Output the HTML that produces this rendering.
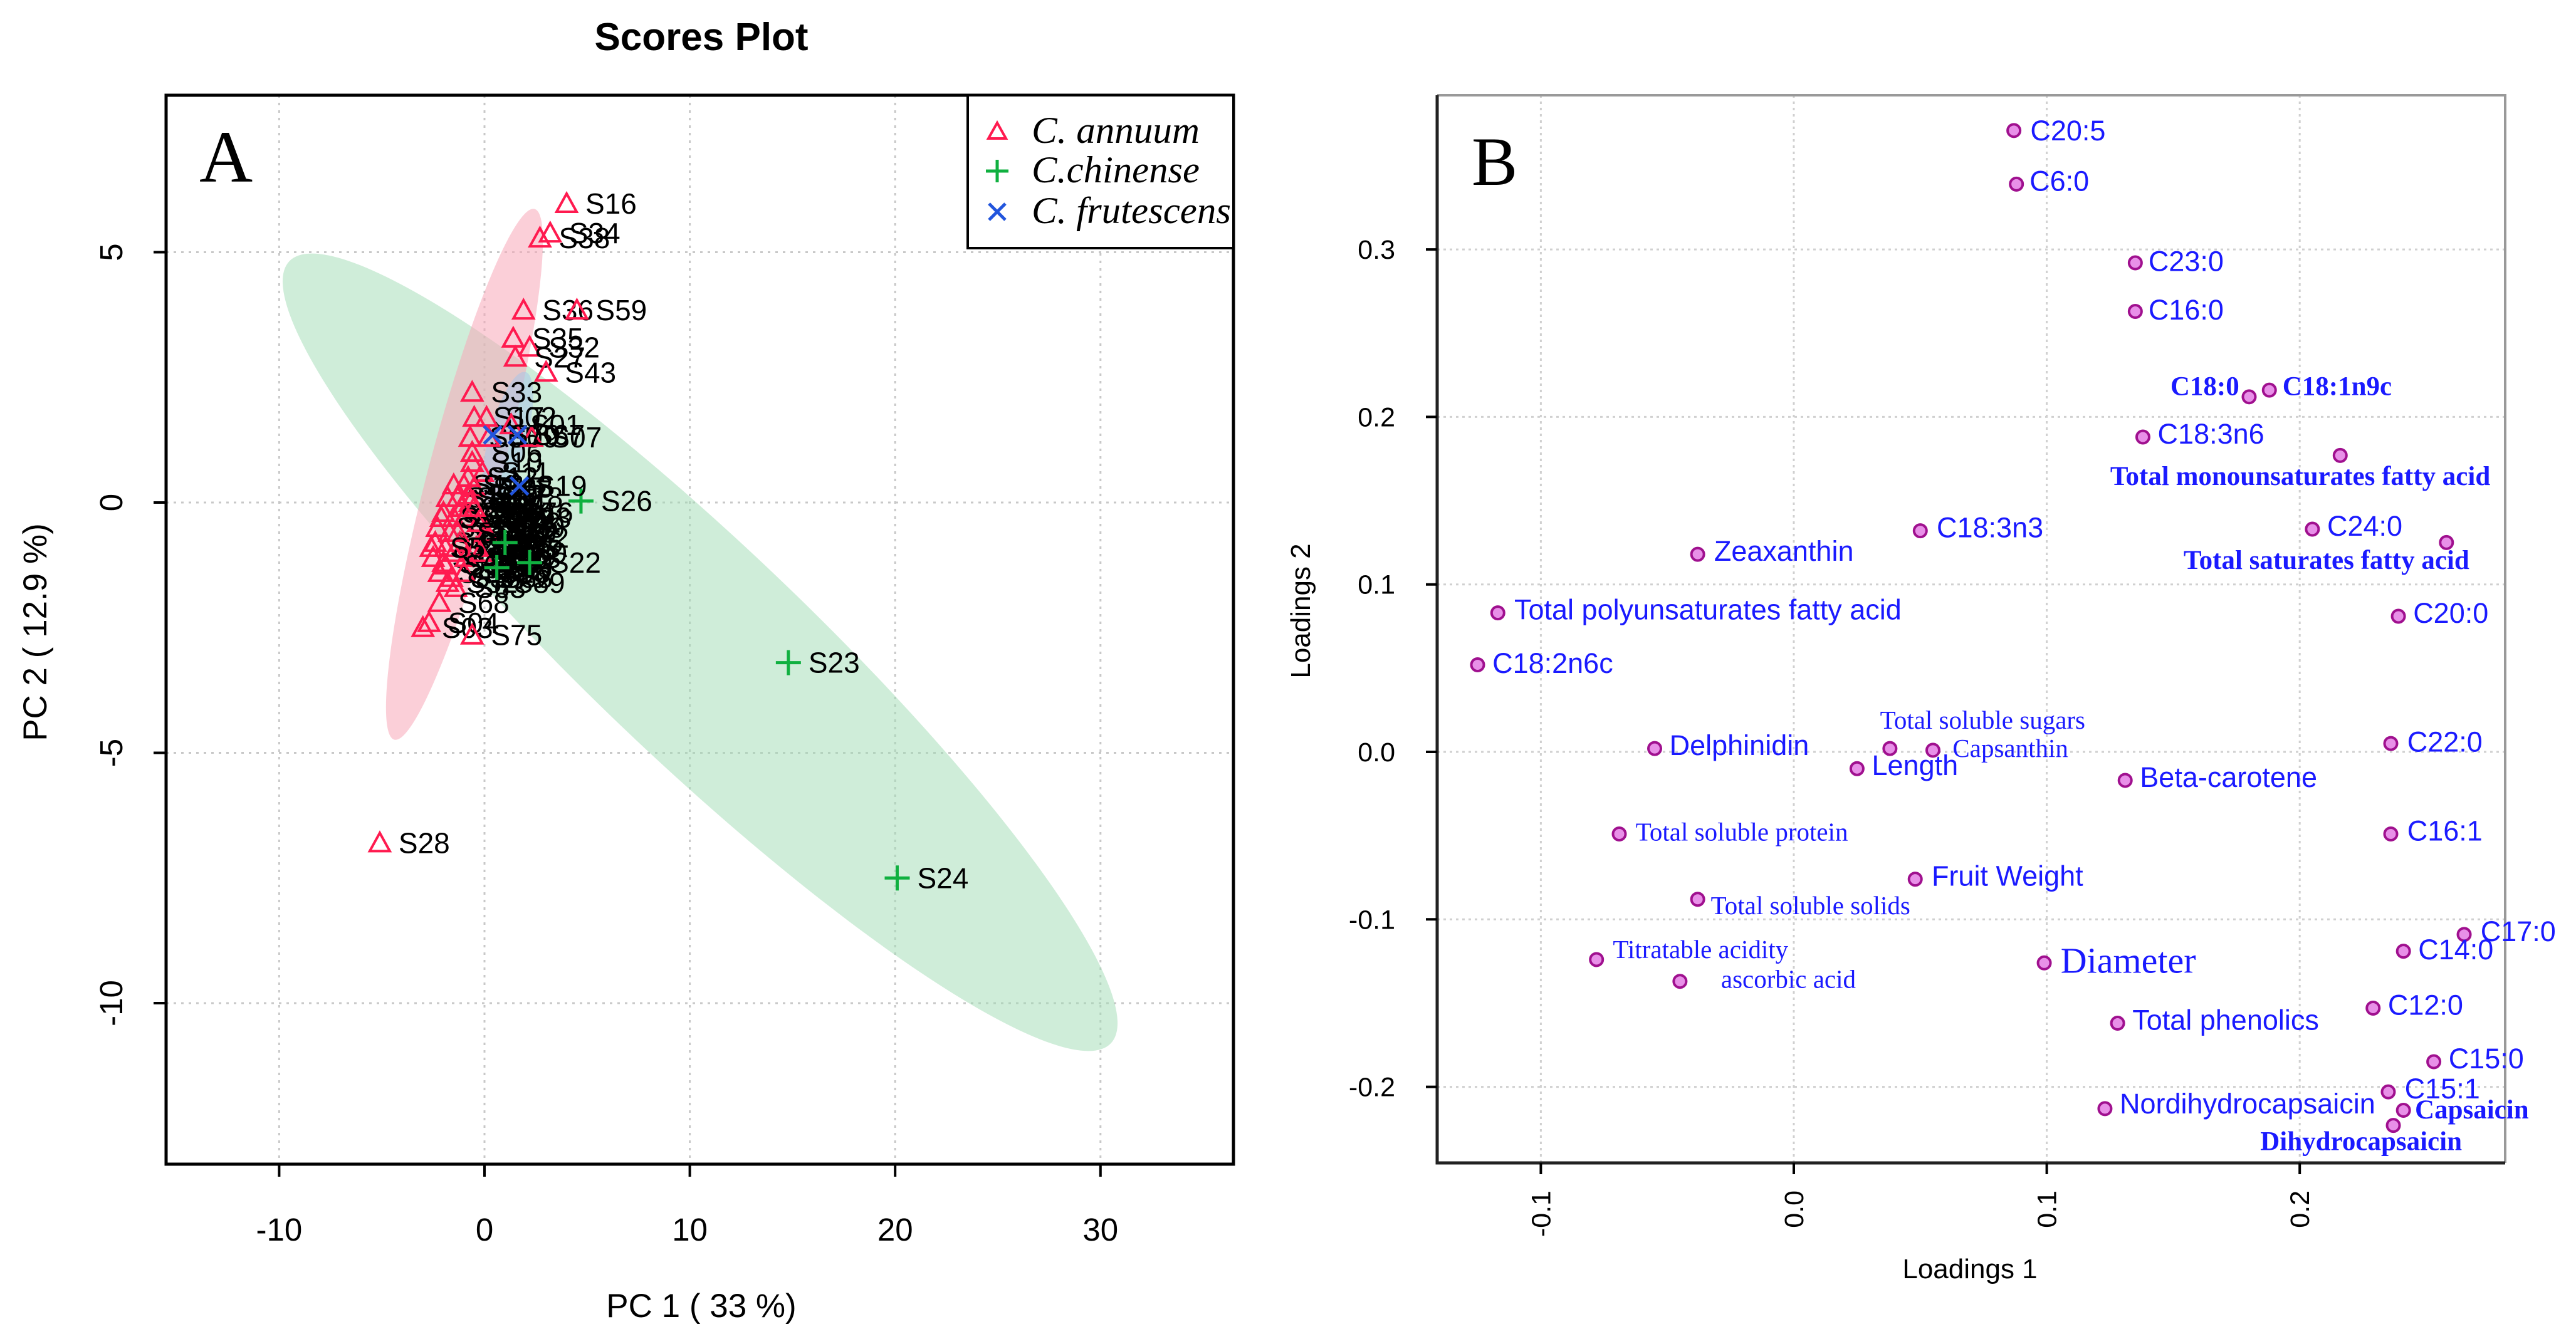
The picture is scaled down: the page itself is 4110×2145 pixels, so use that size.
<!DOCTYPE html>
<html><head><meta charset="utf-8">
<style>
html,body{margin:0;padding:0;background:#fff;}
svg{display:block;}
</style></head>
<body>
<svg id="fig" width="4110" height="2145" viewBox="0 0 4110 2145" xmlns="http://www.w3.org/2000/svg">
<g id="panelA"></g>
<g id="panelB"></g>
</svg>
<script>
// ---------- Panel A data ----------
const annumNames = ["S16","S34","S38","S36","S59","S35","S32","S27","S43","S33",
"S17","S02","S05","S06","S09","S01","S07","S10","S11","S12",
"S13","S14","S15","S18","S20","S21","S25","S29","S30","S31",
"S37","S39","S40","S41","S42","S44","S45","S46","S47","S48",
"S49","S50","S51","S52","S53","S54","S55","S56","S57","S58",
"S60","S61","S62","S63","S68","S04","S03","S75","S28"];
const annumX = [4.0,3.2,2.7,1.9,4.5,1.4,2.2,1.5,3.0,-0.6,
-0.5,0.1,-0.7,-0.6,0.2,1.3,2.3,-0.6,-0.1,-0.8,
-1.5,-1.0,-0.5,-1.8,-1.3,-0.7,-2.0,-1.5,-1.0,-2.3,
-1.7,-0.3,0.1,-2.4,-1.9,-1.2,-2.5,-2.0,-1.5,-0.9,
-2.2,-1.6,-1.0,-1.8,-0.4,-2.1,-1.3,-0.2,-2.6,-1.1,
-0.8,-1.9,-0.5,-1.4,-2.2,-2.7,-3.0,-0.6,-5.1];
const annumY = [5.97,5.38,5.28,3.84,3.84,3.28,3.1,2.9,2.6,2.2,
1.7,1.7,1.3,1.0,1.3,1.55,1.3,0.8,0.6,0.5,
0.35,0.35,0.3,0.1,0.1,0.0,-0.2,-0.3,-0.3,-0.5,
-0.6,-0.4,-0.6,-0.8,-0.9,-0.8,-1.1,-1.2,-1.0,-1.1,
-1.4,-1.5,-1.4,-1.6,-0.9,-0.3,-0.6,-1.0,-0.9,-0.1,
0.15,-1.25,-0.1,-1.7,-2.0,-2.4,-2.5,-2.65,-6.8];
const chinNames = ["S26","S22","S23","S24","S64","S65"];
const chinX = [4.7,2.2,14.8,20.1,1.0,0.6];
const chinY = [0.03,-1.2,-3.2,-7.5,-0.8,-1.3];
const frutNames = ["S70","S67","S19"];
const frutX = [0.4,1.6,1.7];
const frutY = [1.35,1.35,0.33];
const xTicksA = [-10,0,10,20,30];
const yTicksA = [5,0,-5,-10];
const extraLabels = ["S66","S69","S71","S72","S73","S74","S76","S77","S78","S79","S80","S08","S22","S23","S24","S26",
"S81","S82","S83","S84","S85","S86","S87","S88","S89","S90","S91","S92","S93","S94","S95","S96"];
const extraX = [0.5,1.0,0.3,1.2,0.8,0.2,1.4,0.6,0.9,0.1,1.1,0.4,0.7,1.3,0.5,0.9,
-0.3,0.0,0.3,-0.2,0.6,0.2,-0.1,0.4,1.0,-0.4,0.2,0.8,0.0,0.5,-0.2,0.3];
const extraY = [-0.2,-0.5,-0.9,-0.7,-1.1,-0.4,-0.2,-1.3,0.1,-1.5,-1.0,0.3,-0.6,-0.3,-1.2,-0.8,
-0.1,-0.3,-0.5,-0.7,-0.9,-1.1,-1.3,-1.5,-1.6,-0.5,0.0,-0.4,-0.9,-0.2,-1.2,-1.4];

// ---------- Panel B data ----------
const loadNames = ["C20:5","C6:0","C23:0","C16:0","C18:0","C18:1n9c","C18:3n6","Total monounsaturates fatty acid","C18:3n3","Zeaxanthin",
"C24:0","Total saturates fatty acid","Total polyunsaturates fatty acid","C20:0","C18:2n6c","Delphinidin","Total soluble sugars","Capsanthin","Length","Beta-carotene",
"C22:0","Total soluble protein","C16:1","Fruit Weight","Total soluble solids","C17:0","Titratable acidity","ascorbic acid","Diameter","C14:0",
"C12:0","Total phenolics","C15:0","C15:1","Nordihydrocapsaicin","Capsaicin","Dihydrocapsaicin"];
const load1 = [0.087,0.088,0.135,0.135,0.180,0.188,0.138,0.216,0.050,-0.038,
0.205,0.258,-0.117,0.239,-0.125,-0.055,0.038,0.055,0.025,0.131,
0.236,-0.069,0.236,0.048,-0.038,0.265,-0.078,-0.045,0.099,0.241,
0.229,0.128,0.253,0.235,0.123,0.241,0.237];
const load2 = [0.371,0.339,0.292,0.263,0.212,0.216,0.188,0.177,0.132,0.118,
0.133,0.125,0.083,0.081,0.052,0.002,0.002,0.001,-0.010,-0.017,
0.005,-0.049,-0.049,-0.076,-0.088,-0.109,-0.124,-0.137,-0.126,-0.119,
-0.153,-0.162,-0.185,-0.203,-0.213,-0.214,-0.223];
const xTicksB = [-0.1,0.0,0.1,0.2];
const yTicksB = [0.3,0.2,0.1,0.0,-0.1,-0.2];
// label layout (display units, not data)
const K = 2.621;
const lblDX = [10,8,8,8,-6,8,9,-140,10,10, 9,-160,10,9,9,9,-6,12,9,9, 10,10,10,10,8,10,10,25,10,9, 9,9,9,10,9,7,-81];
const lblDY = [6,4,5,5,-1,3,4,18,4,4, 4,16,4,4,5,4,-12,4,4,4, 5,4,4,4,9,4,-1,4,6,5, 4,4,4,4,3,5,15];
const lblStyle = ["s","s","s","s","b","b","s","b","s","s", "s","b","s","s","s","s","r","r","s","s", "s","r","s","s","r","s","r","r","d","s", "s","s","s","s","s","b","b"];

const NS = "http://www.w3.org/2000/svg";
function mk(parent, tag, attrs, text){
  const e = document.createElementNS(NS, tag);
  for (const k in attrs) e.setAttribute(k, attrs[k]);
  if (text !== undefined) e.textContent = text;
  parent.appendChild(e);
  return e;
}
const SANS = '"Liberation Sans", "DejaVu Sans", sans-serif';
const SERIF = '"Liberation Serif", "DejaVu Serif", serif';

// ================= PANEL A =================
const A = document.getElementById('panelA');
const AL=265, AR=1968, AT=152, AB=1858;
const ax = v => 773 + 32.76*v;
const ay = v => 802 - 79.9*v;

let t = mk(A,'text',{x:1119,y:80,'font-family':SANS,'font-size':62,'font-weight':'bold','text-anchor':'middle'},'Scores Plot');



xTicksA.forEach(v=>{
  const l = mk(A,'line',{x1:ax(v),x2:ax(v),y1:AT,y2:AB,stroke:'#c8c8c8','stroke-width':3,'stroke-dasharray':'4,8'});
  
  
});
yTicksA.forEach(v=>{
  const l = mk(A,'line',{x1:AL,x2:AR,y1:ay(v),y2:ay(v),stroke:'#c8c8c8','stroke-width':3,'stroke-dasharray':'4,8'});
  
  
});

let el = mk(A,'ellipse',{cx:1117,cy:1041,rx:905,ry:172,transform:'rotate(43.6 1117 1041)',fill:'#9fdcb4','fill-opacity':0.5});


el = mk(A,'ellipse',{cx:741,cy:757,rx:438,ry:58,transform:'rotate(-75.2 741 757)',fill:'#f7a8b8','fill-opacity':0.55});


el = mk(A,'ellipse',{cx:810,cy:700,rx:110,ry:30,transform:'rotate(-75 810 700)',fill:'#a9c4e8','fill-opacity':0.55});



extraLabels.forEach((n,i)=>{
  const tx = mk(A,'text',{x:ax(extraX[i])+14,y:ay(extraY[i])+16,'font-family':SANS,'font-size':46,fill:'#000'},n);
  
  
});

annumNames.forEach((n,i)=>{
  const cx=ax(annumX[i]), cy=ay(annumY[i]);
  const p = mk(A,'polygon',{points:`${cx},${cy-16} ${cx-16},${cy+13} ${cx+16},${cy+13}`,fill:'none',stroke:'#ff1a4f','stroke-width':4});
  
  
  const tx = mk(A,'text',{x:cx+30,y:cy+16,'font-family':SANS,'font-size':46,fill:'#000'},n);
  
  
});
chinNames.forEach((n,i)=>{
  const cx=ax(chinX[i]), cy=ay(chinY[i]);
  const p = mk(A,'path',{d:`M${cx-20},${cy}H${cx+20}M${cx},${cy-20}V${cy+20}`,stroke:'#10b040','stroke-width':5,fill:'none'});
  
  
  if(i<4){
    const tx = mk(A,'text',{x:cx+32,y:cy+16,'font-family':SANS,'font-size':46,fill:'#000'},n);
    
    
  }
});
frutNames.forEach((n,i)=>{
  const cx=ax(frutX[i]), cy=ay(frutY[i]);
  const p = mk(A,'path',{d:`M${cx-14},${cy-14}L${cx+14},${cy+14}M${cx-14},${cy+14}L${cx+14},${cy-14}`,stroke:'#2255dd','stroke-width':5,fill:'none'});
  
  
  const tx = mk(A,'text',{x:cx+26,y:cy+16,'font-family':SANS,'font-size':46,fill:'#000'},n);
  
  
});

let bx = mk(A,'rect',{x:AL,y:AT,width:AR-AL,height:AB-AT,fill:'none',stroke:'#000','stroke-width':5});


xTicksA.forEach(v=>{
  const l = mk(A,'line',{x1:ax(v),x2:ax(v),y1:AB,y2:AB+20,stroke:'#000','stroke-width':4});
  
  
  const tx = mk(A,'text',{x:ax(v),y:1980,'font-family':SANS,'font-size':51,'text-anchor':'middle'},String(v));
  
  
});
yTicksA.forEach(v=>{
  const l = mk(A,'line',{x1:AL-20,x2:AL,y1:ay(v),y2:ay(v),stroke:'#000','stroke-width':4});
  
  
  const tx = mk(A,'text',{x:195,y:ay(v),'font-family':SANS,'font-size':51,'text-anchor':'middle',transform:`rotate(-90 195 ${ay(v)})`},String(v));
  
  
});
t = mk(A,'text',{x:1119,y:2102,'font-family':SANS,'font-size':53,'text-anchor':'middle'},'PC 1 ( 33 %)');


t = mk(A,'text',{x:74,y:1009,'font-family':SANS,'font-size':53,'text-anchor':'middle',transform:'rotate(-90 74 1009)'},'PC 2 ( 12.9 %)');


t = mk(A,'text',{x:318,y:290,'font-family':SERIF,'font-size':118,transform:'scale(1,1)'},'A');



let lg = mk(A,'rect',{x:1544,y:152,width:424,height:244,fill:'#fff',stroke:'#000','stroke-width':4});


const legNames=['C. annuum','C.chinense','C. frutescens'];
const legY=[210,273,338];
legNames.forEach((n,i)=>{
  const cx=1591, cy=legY[i];
  let s;
  if(i===0) s = mk(A,'polygon',{points:`${cx},${cy-14} ${cx-14},${cy+11} ${cx+14},${cy+11}`,fill:'none',stroke:'#ff1a4f','stroke-width':4});
  else if(i===1) s = mk(A,'path',{d:`M${cx-18},${cy}H${cx+18}M${cx},${cy-18}V${cy+18}`,stroke:'#10b040','stroke-width':5});
  else s = mk(A,'path',{d:`M${cx-13},${cy-13}L${cx+13},${cy+13}M${cx-13},${cy+13}L${cx+13},${cy-13}`,stroke:'#2255dd','stroke-width':5});
  
  
  const tx = mk(A,'text',{x:1646,y:cy+18,'font-family':SERIF,'font-size':60,'font-style':'italic',textLength:i===2?318:(i===0?268:268),lengthAdjust:'spacingAndGlyphs'},n);
  
  
});

// ================= PANEL B =================
const B = document.getElementById('panelB');
const BL=2293, BR=3997, BT=152, BB=1856;
const bxs = v => 2862 + 4036*v;
const bys = v => 1200 - 2673*v;

xTicksB.forEach(v=>{
  const l = mk(B,'line',{x1:bxs(v),x2:bxs(v),y1:BT,y2:BB,stroke:'#d0d0d0','stroke-width':3,'stroke-dasharray':'4,6'});
  
  
});
yTicksB.forEach(v=>{
  const l = mk(B,'line',{x1:BL,x2:BR,y1:bys(v),y2:bys(v),stroke:'#d0d0d0','stroke-width':3,'stroke-dasharray':'4,6'});
  
  
});
let fr = mk(B,'path',{d:`M${BL},${BT}H${BR}V${BB}`,fill:'none',stroke:'#999','stroke-width':4});


fr = mk(B,'path',{d:`M${BL},${BT}V${BB}H${BR}`,fill:'none',stroke:'#222','stroke-width':5});



xTicksB.forEach(v=>{
  const l = mk(B,'line',{x1:bxs(v),x2:bxs(v),y1:BB,y2:BB+18,stroke:'#000','stroke-width':4});
  
  
  const lx=bxs(v)+15, ly=1900;
  const tx = mk(B,'text',{x:lx,y:ly,'font-family':SANS,'font-size':43,'text-anchor':'end',transform:`rotate(-90 ${lx} ${ly})`},v.toFixed(1));
  
  
});
yTicksB.forEach(v=>{
  const l = mk(B,'line',{x1:BL-18,x2:BL,y1:bys(v),y2:bys(v),stroke:'#000','stroke-width':4});
  
  
  const tx = mk(B,'text',{x:2226,y:bys(v)+15,'font-family':SANS,'font-size':43,'text-anchor':'end'},v.toFixed(1));
  
  
});
t = mk(B,'text',{x:3143,y:2040,'font-family':SANS,'font-size':44,'text-anchor':'middle'},'Loadings 1');


t = mk(B,'text',{x:2090,y:975,'font-family':SANS,'font-size':44,'text-anchor':'middle',transform:'rotate(-90 2090 975)'},'Loadings 2');


t = mk(B,'text',{x:2348,y:295,'font-family':SERIF,'font-size':110},'B');



loadNames.forEach((n,i)=>{
  const cx=bxs(load1[i]), cy=bys(load2[i]);
  const c = mk(B,'circle',{cx:cx,cy:cy,r:10,fill:'#e890e8',stroke:'#a0108f','stroke-width':4});
  
  
  const st = lblStyle[i];
  const attrs = {x:cx+lblDX[i]*K, y:cy+lblDY[i]*K, fill:'#1a1aff'};
  if(st==='s'){attrs['font-family']=SANS;attrs['font-size']=45;}
  else if(st==='b'){attrs['font-family']=SERIF;attrs['font-size']=43;attrs['font-weight']='bold';}
  else if(st==='r'){attrs['font-family']=SERIF;attrs['font-size']=41;}
  else {attrs['font-family']=SERIF;attrs['font-size']=58;}
  if(n==='C18:0'){attrs['text-anchor']='end';}
  const tx = mk(B,'text',attrs,n);
  
  
});
</script>
</body></html>
